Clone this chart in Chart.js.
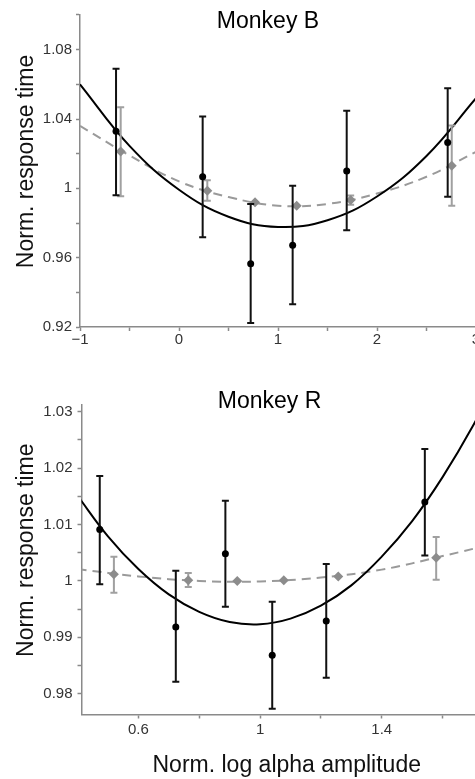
<!DOCTYPE html>
<html>
<head>
<meta charset="utf-8">
<script src="https://cdn.jsdelivr.net/npm/chart.js@4"></script>
<style>
  html, body { margin: 0; padding: 0; background: #fff; }
  body { width: 475px; height: 779px; overflow: hidden; position: relative; }
  canvas { position: absolute; left: 0; }
</style>
</head>
<body>
<canvas id="chartB" width="536" height="360" style="top:0px"></canvas>
<canvas id="chartR" width="539" height="409" style="top:370px"></canvas>
<script>
// Monkey B : black dots (with error) and grey diamonds (with error)
const bX    = [-0.636, 0.239, 0.724, 1.148, 1.694, 2.714]
const bY    = [1.033, 1.0067, 0.9565, 0.9671, 1.010, 1.0265]
const bLow  = [0.996, 0.9718, 0.9223, 0.9331, 0.9758, 0.9951]
const bHigh = [1.069, 1.0415, 0.9909, 1.0015, 1.0447, 1.0578]

const bgX    = [-0.589, 0.286, 0.768, 1.189, 1.734, 2.755]
const bgY    = [1.0212, 0.9986, 0.992, 0.9899, 0.9932, 1.0131]
const bgLow  = [0.9955, 0.9928, null, null, 0.9906, 0.9899]
const bgHigh = [1.0468, 1.0046, null, null, 0.9958, 1.0363]

// fitted curves
const bFitX  = [-1, -0.5, 0, 0.5, 1, 1.5, 2, 2.5, 3]
const bFit   = [1.060, 1.0245, 0.9992, 0.9836, 0.9777, 0.9816, 0.9953, 1.0187, 1.052]
const bgFit  = [1.036, 1.019, 1.004, 0.995, 0.990, 0.991, 0.997, 1.0067, 1.021]

const bXTicks  = [-1, -0.5, 0, 0.5, 1, 1.5, 2, 2.5, 3]
const bXLabels = ['\u22121', '', '0', '', '1', '', '2', '', '3']
const bYTicks  = [0.92, 0.94, 0.96, 0.98, 1.00, 1.02, 1.04, 1.06, 1.08, 1.10]
const bYLabels = ['0.92', '', '0.96', '', '1', '', '1.04', '', '1.08', '']

// Monkey R
const rX    = [0.473, 0.723, 0.886, 1.040, 1.2176, 1.5417]
const rY    = [1.0091, 0.9918, 1.0048, 0.9868, 0.9929, 1.0140]
const rLow  = [0.9994, 0.9821, 0.9954, 0.9773, 0.9828, 1.0045]
const rHigh = [1.0186, 1.0018, 1.0142, 0.9963, 1.0030, 1.0234]

const rgX    = [0.5195, 0.764, 0.925, 1.078, 1.257, 1.579]
const rgY    = [1.0012, 1.0001, 1.0000, 1.0001, 1.0008, 1.0041]
const rgLow  = [0.9979, 0.9989, null, null, null, 1.0002]
const rgHigh = [1.0043, 1.0014, null, null, null, 1.0078]

const rFitX  = [0.4, 0.5, 0.6, 0.7, 0.8, 0.9, 1.0, 1.1, 1.2, 1.3, 1.4, 1.5, 1.6, 1.7, 1.8]
const rFit   = [1.0151, 1.0079, 1.0021, 0.9976, 0.9945, 0.9927, 0.9923, 0.9933, 0.9956, 0.9992, 1.0043, 1.0106, 1.0184, 1.0275, 1.0379]
const rgFitX = [0.4, 0.6, 0.8, 1.0, 1.2, 1.4, 1.6, 1.8]
const rgFit  = [1.0021, 1.0008, 1.0000, 0.9999, 1.0006, 1.0020, 1.0044, 1.0070]

const rXTicks  = [0.6, 0.8, 1.0, 1.2, 1.4, 1.6]
const rXLabels = ['0.6', '', '1', '', '1.4', '']
const rYTicks  = [0.98, 0.985, 0.99, 0.995, 1.00, 1.005, 1.01, 1.015, 1.02, 1.025, 1.03]
const rYLabels = ['0.98', '', '0.99', '', '1', '', '1.01', '', '1.02', '', '1.03']

Chart.defaults.font.family = '"Liberation Sans", Arial, sans-serif'

const AXIS = '#8a8a8a'

function pts(xs, ys) {
    return xs.map((x, i) => ({x: x, y: ys[i]}))
}

// vertical error bars, drawn just before the markers of the same dataset
const errorBars = {
    id: 'errorBars',
    beforeDatasetDraw(chart, args) {
        const ds = chart.data.datasets[args.index]
        if (!ds.errLow) return
        const ctx = chart.ctx
        const xs = chart.scales.x, ys = chart.scales.y
        ctx.save()
        ctx.strokeStyle = ds.errColor
        ctx.lineWidth = 2
        ds.data.forEach((p, i) => {
            if (ds.errLow[i] == null) return
            const x = xs.getPixelForValue(p.x)
            const top = ys.getPixelForValue(ds.errHigh[i])
            const bot = ys.getPixelForValue(ds.errLow[i])
            ctx.beginPath()
            ctx.moveTo(x, top); ctx.lineTo(x, bot)
            ctx.moveTo(x - 3.5, top); ctx.lineTo(x + 3.5, top)
            ctx.moveTo(x - 3.5, bot); ctx.lineTo(x + 3.5, bot)
            ctx.stroke()
        })
        ctx.restore()
    }
}

function makeChart(id, o) {
    return new Chart(document.getElementById(id).getContext('2d'), {
        type: 'scatter',
        data: {
            datasets: [
                { data: pts(o.dotX, o.dotY), pointStyle: 'circle', pointRadius: 3.5, pointBorderWidth: 0,
                  backgroundColor: '#000', errLow: o.dotLow, errHigh: o.dotHigh, errColor: '#111' },
                { data: pts(o.diaX, o.diaY), pointStyle: 'rectRot', pointRadius: 5, pointBorderWidth: 0,
                  backgroundColor: '#8c8c8c', errLow: o.diaLow, errHigh: o.diaHigh, errColor: '#a0a0a0' },
                { data: pts(o.fitX, o.fit), showLine: true, pointRadius: 0, borderColor: '#000',
                  borderWidth: 2, tension: 0.4 },
                { data: pts(o.gfitX, o.gfit), showLine: true, pointRadius: 0, borderColor: '#9a9a9a',
                  borderWidth: 2, borderDash: [9, 6], tension: 0.4 }
            ]
        },
        options: {
            responsive: false,
            animation: false,
            devicePixelRatio: 1,
            events: [],
            layout: { padding: 0 },
            plugins: {
                legend: { display: false },
                tooltip: { enabled: false },
                title: {
                    display: true, text: o.title, color: '#000',
                    font: { size: 23, weight: 'normal' },
                    padding: o.titlePad
                }
            },
            scales: {
                x: {
                    type: 'linear', min: o.xMin, max: o.xMax,
                    afterFit: s => { s.height = o.xHeight },
                    afterBuildTicks: s => { s.ticks = o.xTicks.map(v => ({value: v})) },
                    grid: { drawOnChartArea: false, tickLength: 4, tickColor: AXIS, tickWidth: 1.5 },
                    border: { color: AXIS, width: 1.5 },
                    ticks: { color: '#333', font: { size: 15 }, padding: o.xTickPad, maxRotation: 0,
                             autoSkip: false, callback: (v, i) => o.xLabels[i] },
                    title: { display: !!o.xTitle, text: o.xTitle, color: '#111',
                             font: { size: 23 }, padding: { top: 0, bottom: 0 } }
                },
                y: {
                    min: o.yMin, max: o.yMax,
                    afterFit: s => { s.width = o.yWidth },
                    afterBuildTicks: s => { s.ticks = o.yTicks.map(v => ({value: v})) },
                    grid: { drawOnChartArea: false, tickLength: 4, tickColor: AXIS, tickWidth: 1.5 },
                    border: { color: AXIS, width: 1.5 },
                    ticks: { color: '#333', font: { size: 15 }, padding: o.yTickPad, autoSkip: false,
                             callback: (v, i) => o.yLabels[i] },
                    title: { display: true, text: '   Norm. response time', color: '#111',
                             font: { size: 23 }, padding: { top: 12.9, bottom: 0 } }
                },
                // empty strip on the right, keeps the panel title where the figure has it
                side: {
                    position: 'right', display: true,
                    afterFit: s => { s.width = o.sideWidth },
                    grid: { display: false }, border: { display: false },
                    ticks: { display: false }
                }
            }
        },
        plugins: [errorBars]
    })
}

makeChart('chartB', {
    title: 'Monkey B', titlePad: { top: 7.7, bottom: -20.3 },
    dotX: bX, dotY: bY, dotLow: bLow, dotHigh: bHigh,
    diaX: bgX, diaY: bgY, diaLow: bgLow, diaHigh: bgHigh,
    fitX: bFitX, fit: bFit, gfitX: bFitX, gfit: bgFit,
    xMin: -1, xMax: 3, xTicks: bXTicks, xLabels: bXLabels, xHeight: 33, xTickPad: 0, xTitle: '',
    yMin: 0.92, yMax: 1.10, yTicks: bYTicks, yLabels: bYLabels, yWidth: 80, yTickPad: 4,
    sideWidth: 60
})

makeChart('chartR', {
    title: 'Monkey R', titlePad: { top: 18.2, bottom: -10.8 },
    dotX: rX, dotY: rY, dotLow: rLow, dotHigh: rHigh,
    diaX: rgX, diaY: rgY, diaLow: rgLow, diaHigh: rgHigh,
    fitX: rFitX, fit: rFit, gfitX: rgFitX, gfit: rgFit,
    xMin: 0.413, xMax: 1.7625, xTicks: rXTicks, xLabels: rXLabels, xHeight: 64.5, xTickPad: 2.5,
    xTitle: 'Norm. log alpha amplitude',
    yMin: 0.9763, yMax: 1.0312, yTicks: rYTicks, yLabels: rYLabels, yWidth: 81.5, yTickPad: 5,
    sideWidth: 47
})
</script>
</body>
</html>
